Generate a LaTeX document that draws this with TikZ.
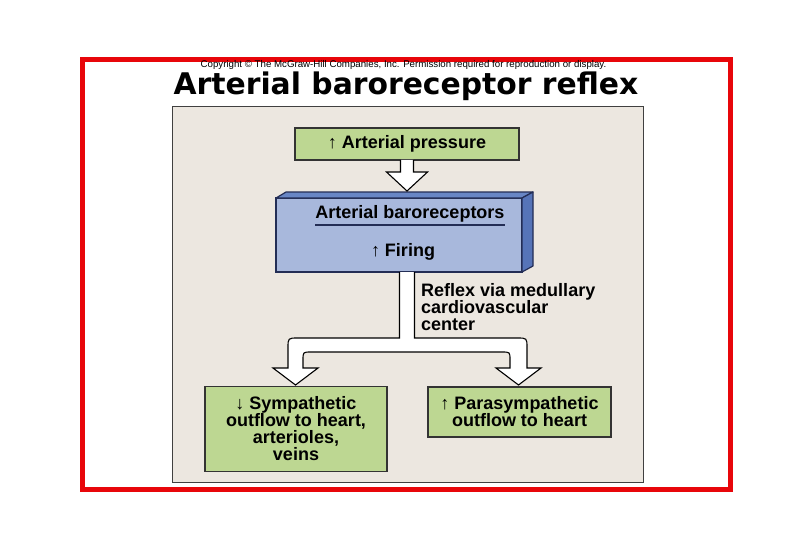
\documentclass[tikz,border=0pt]{standalone}
\usepackage{fontspec}
\setmainfont{Liberation Sans}
\newfontfamily\titlefont{DejaVu Sans}
\usepackage{tikz}
\usetikzlibrary{positioning, calc}
\definecolor{panelbg}{RGB}{236,231,224}
\definecolor{boxgreen}{RGB}{189,215,146}
\definecolor{bluefront}{RGB}{168,184,220}
\definecolor{bluetop}{RGB}{104,134,197}
\definecolor{blueside}{RGB}{86,116,184}
\definecolor{edgeblue}{RGB}{35,45,85}
\definecolor{framered}{RGB}{232,6,10}
\tikzstyle{greenbox} = [rectangle, draw=black!80, line width=1.2pt, fill=boxgreen, inner sep=0pt, outer sep=0pt, align=center, font=\fontsize{18}{17}\selectfont\bfseries]
\tikzstyle{bluebox} = [rectangle, draw=edgeblue, line width=1.2pt, fill=bluefront, minimum width=246pt, minimum height=74pt, outer sep=0pt]
\tikzstyle{txt} = [inner sep=0pt, font=\fontsize{18}{17}\selectfont\bfseries]
\tikzstyle{hollow} = [fill=white, draw=black, line width=1.1pt, line join=miter]

\begin{document}
\begin{tikzpicture}[node distance=60pt, x=1pt, y=-1pt]
				\useasboundingbox (0,0) rectangle (810,540);
				\fill[white] (0,0) rectangle (810,540);
				%----------------------------------------------------%
				\draw[framered, line width=5pt] (82.5,59.5) rectangle (730,489.5);
				\node(copy) [inner sep=0pt, anchor=base, font=\fontsize{9.7}{10}\selectfont] at (403.5,67.5) {Copyright © The McGraw-Hill Companies, Inc. Permission required for reproduction or display.};
				\node(title) [inner sep=0pt, anchor=base, font=\titlefont\fontsize{29.8}{32}\selectfont\bfseries] at (406,95) {Arterial baroreceptor reflex};
				\draw[fill=panelbg, draw=black!75, line width=1pt] (172,107) rectangle (643,482);
				%----------------------------------------------------%
				\node(press) [greenbox, minimum width=224pt, minimum height=32pt] at (407,144) {↑ Arterial pressure};
				\node(baro) [bluebox, below of=press, xshift=-8pt, yshift=-31pt] {};
				\draw[fill=bluetop, draw=edgeblue, line width=1.2pt, line join=round] (baro.north west) -- ++(10,-6) -- ($(baro.north east)+(11,-6)$) -- (baro.north east) -- cycle;
				\draw[fill=blueside, draw=edgeblue, line width=1.2pt, line join=round] (baro.north east) -- ++(11,-6) -- ($(baro.south east)+(11,-6)$) -- (baro.south east) -- cycle;
				\node(baroname) [txt, anchor=base] at (410,218) {Arterial baroreceptors};
				\draw[edgeblue, line width=1.2pt] ([yshift=-7pt]baroname.base west) -- ([yshift=-7pt]baroname.base east);
				\node(firing) [txt, anchor=base] at (403,256) {↑ Firing};
				
				\filldraw[hollow] ($(press.south)+(-6.5,0)$) -- ++(0,12) -- ++(-14,0) -- ++(20.5,19) -- ++(20.5,-19) -- ++(-14,0) -- ++(0,-12);
				
				%----------------------------------------------------%
				\node(symp) [greenbox, minimum width=182pt, minimum height=85pt, below of=baro, xshift=-103pt, yshift=-134pt] {↓ Sympathetic\\outflow to heart,\\arterioles,\\veins};
				\node(para) [greenbox, minimum width=183pt, minimum height=50pt, right of=symp, xshift=163.5pt, yshift=17pt] {↑ Parasympathetic\\outflow to heart};
				\node(reflex) [txt, anchor=north west, align=left] at (421,283) {Reflex via medullary\\cardiovascular\\center};
				
				\coordinate (fork) at (press.south |- baro.south);
				\filldraw[hollow] ($(fork)+(-7.5,0)$) -- ++(0,66) -- ++(-101.5,0)
				.. controls +(-10,0) .. ++(-10,10) -- ++(0,20) -- ++(-15,0) -- ++(22.5,17) -- ++(22.5,-17) -- ++(-15,0) -- ++(0,-8)
				.. controls +(0,-8) .. ++(8,-8) -- ++(191,0)
				.. controls +(8,0) .. ++(8,8) -- ++(0,8) -- ++(-14,0) -- ++(22.5,17) -- ++(22.5,-17) -- ++(-14,0) -- ++(0,-20)
				.. controls +(0,-10) .. ++(-10,-10) -- ++(-102.5,0) -- ++(0,-66);
			\end{tikzpicture}
\end{document}
